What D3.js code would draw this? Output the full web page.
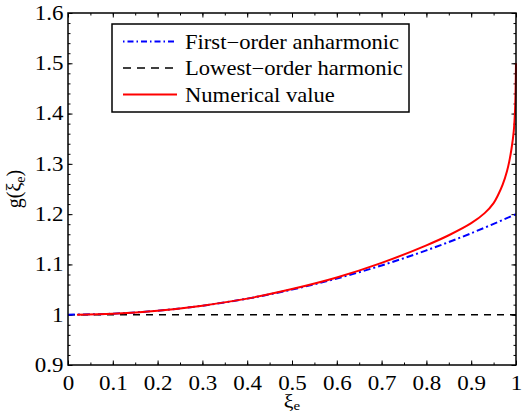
<!DOCTYPE html>
<head>
    <meta charset="utf-8">
    <style>
        body { margin: 0; background: #fff; }
        text { font-family: "Liberation Serif", "Times New Roman", "DejaVu Serif", serif; }
        .axis path { display: none; }
        .axis line { stroke: #000; stroke-width: 1; }
    </style>
</head>
<body>
    <div id="chart"></div>
    <script src="https://d3js.org/d3.v7.min.js"></script>
    <script>
        // tick labels
        var xTicks = [0, 0.1, 0.2, 0.3, 0.4, 0.5, 0.6, 0.7, 0.8, 0.9, 1];
        var yTicks = [0.9, 1, 1.1, 1.2, 1.3, 1.4, 1.5, 1.6];

        // first-order anharmonic (blue dash-dot)
        var anharmX = [0, 0.1, 0.2, 0.3, 0.4, 0.5, 0.6, 0.7, 0.8, 0.9, 1];
        var anharmY = [1.000, 1.002, 1.008, 1.018, 1.032, 1.050, 1.072, 1.098, 1.128, 1.162, 1.200];

        // lowest-order harmonic (black dashed)
        var harmX = [0, 1];
        var harmY = [1, 1];

        // numerical value (red)
        var numX = [0.02, 0.1, 0.2, 0.3, 0.4, 0.5, 0.6, 0.7, 0.8, 0.85, 0.9, 0.93, 0.95, 0.96, 0.97, 0.98, 0.985, 0.99, 0.995, 0.998, 1.0];
        var numY = [1.000, 1.002, 1.008, 1.018, 1.032, 1.051, 1.074, 1.103, 1.138, 1.158, 1.182, 1.202, 1.222, 1.238, 1.258, 1.286, 1.305, 1.330, 1.365, 1.410, 1.500];

        var legendLabels = ["First\u2212order anharmonic", "Lowest\u2212order harmonic", "Numerical value"];

        var serif = "'Liberation Serif', 'Times New Roman', 'DejaVu Serif', serif";
        var fs = 20, stretch = "scale(1.15,1)";   // the original figure is a bit wider than tall

        var margin = {top: 13, right: 9, bottom: 52, left: 68},
            width = 525 - margin.left - margin.right,
            height = 417 - margin.top - margin.bottom;

        var svg = d3.select("#chart").append("svg")
                .attr("width", 525)
                .attr("height", 417)
                .attr("font-family", serif)
            .append("g")
                .attr("transform", "translate(" + margin.left + "," + margin.top + ")");

        var x = d3.scaleLinear().domain([0, 1]).range([0, width]);
        var y = d3.scaleLinear().domain([0.9, 1.6]).range([height, 0]);

        var xMinor = d3.range(0, 21).map(function(i) { return i * 0.05; });
        var yMinor = d3.range(0, 36).map(function(i) { return 0.9 + i * 0.02; });

        function fmt(d) { return String(+d.toFixed(1)); }

        // minor ticks, all four sides
        svg.append("g").attr("class", "axis").attr("transform", "translate(0," + height + ")")
            .call(d3.axisBottom(x).tickValues(xMinor).tickSize(-2.5).tickFormat(""));
        svg.append("g").attr("class", "axis")
            .call(d3.axisTop(x).tickValues(xMinor).tickSize(-2.5).tickFormat(""));
        svg.append("g").attr("class", "axis")
            .call(d3.axisLeft(y).tickValues(yMinor).tickSize(-2.5).tickFormat(""));
        svg.append("g").attr("class", "axis").attr("transform", "translate(" + width + ",0)")
            .call(d3.axisRight(y).tickValues(yMinor).tickSize(-2.5).tickFormat(""));

        // major ticks
        var gx = svg.append("g").attr("class", "axis").attr("transform", "translate(0," + height + ")")
            .call(d3.axisBottom(x).tickValues(xTicks).tickSize(-4.5).tickPadding(11).tickFormat(fmt));
        var gy = svg.append("g").attr("class", "axis")
            .call(d3.axisLeft(y).tickValues(yTicks).tickSize(-4.5).tickPadding(4).tickFormat(fmt));
        svg.append("g").attr("class", "axis")
            .call(d3.axisTop(x).tickValues(xTicks).tickSize(-4.5).tickFormat(""));
        svg.append("g").attr("class", "axis").attr("transform", "translate(" + width + ",0)")
            .call(d3.axisRight(y).tickValues(yTicks).tickSize(-4.5).tickFormat(""));

        svg.selectAll(".axis").attr("font-family", serif).attr("font-size", fs);
        svg.selectAll(".axis text").attr("fill", "#000").attr("transform", stretch);

        // lines
        var line = d3.line()
            .x(function(d) { return x(d[0]); })
            .y(function(d) { return y(d[1]); })
            .curve(d3.curveCatmullRom.alpha(0.5));

        svg.append("path")
            .datum(harmX.map(function(v, i) { return [v, harmY[i]]; }))
            .attr("d", line)
            .attr("fill", "none").attr("stroke", "#000").attr("stroke-width", 1.6)
            .attr("stroke-dasharray", "7,6");

        svg.append("path")
            .datum(anharmX.map(function(v, i) { return [v, anharmY[i]]; }))
            .attr("d", line)
            .attr("fill", "none").attr("stroke", "#0000ff").attr("stroke-width", 2)
            .attr("stroke-dasharray", "7,3,2,3");

        svg.append("path")
            .datum(numX.map(function(v, i) { return [v, numY[i]]; }))
            .attr("d", line)
            .attr("fill", "none").attr("stroke", "#ff0000").attr("stroke-width", 2);

        // frame
        svg.append("rect")
            .attr("width", width).attr("height", height)
            .attr("fill", "none").attr("stroke", "#000").attr("stroke-width", 1.5);

        // axis labels
        var xl = svg.append("text")
            .attr("transform", "translate(" + (width / 2) + "," + (height + 42) + ") " + stretch)
            .attr("text-anchor", "middle").attr("font-size", 19);
        xl.append("tspan").text("\u03be");
        xl.append("tspan").attr("font-size", 13).attr("dy", 3).text("e");

        var yl = svg.append("text")
            .attr("transform", "translate(" + (-47) + "," + (height / 2) + ") rotate(-90)")
            .attr("text-anchor", "middle").attr("font-size", fs);
        yl.append("tspan").text("g(\u03be");
        yl.append("tspan").attr("font-size", 14).attr("dy", 4).text("e");
        yl.append("tspan").attr("dy", -4).text(")");

        // legend
        var lg = svg.append("g").attr("transform", "translate(" + (112 - margin.left) + "," + (24 - margin.top) + ")");
        lg.append("rect")
            .attr("width", 297).attr("height", 88)
            .attr("fill", "#fff").attr("stroke", "#000").attr("stroke-width", 1.5);
        var styles = [
            {stroke: "#0000ff", dash: "1.5,3,6,3", w: 2},
            {stroke: "#000", dash: "8,6", w: 1.6},
            {stroke: "#ff0000", dash: null, w: 2}
        ];
        legendLabels.forEach(function(label, i) {
            var ly = 17.5 + i * 26.5;
            lg.append("line")
                .attr("x1", 11).attr("x2", 65).attr("y1", ly).attr("y2", ly)
                .attr("stroke", styles[i].stroke).attr("stroke-width", styles[i].w)
                .attr("stroke-dasharray", styles[i].dash);
            lg.append("text")
                .attr("transform", "translate(73," + ly + ") scale(1.13,1)")
                .attr("dy", "0.35em")
                .attr("font-size", fs).text(label);
        });
    </script>
</body>
